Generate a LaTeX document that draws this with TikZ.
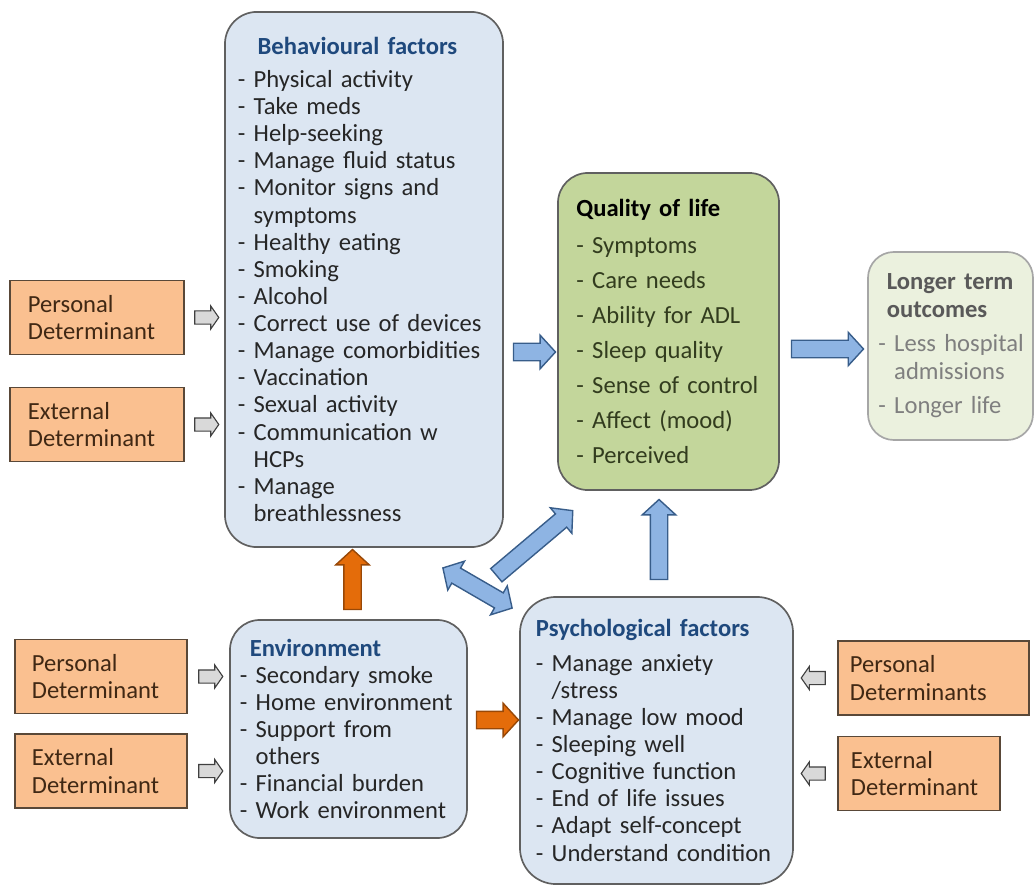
\documentclass[tikz,border=0pt]{standalone}
\usepackage{fontspec}
\setmainfont{Carlito}
\usetikzlibrary{positioning,shapes.arrows,calc}

\definecolor{boxfill}{RGB}{220,230,242}
\definecolor{boxline}{RGB}{96,96,96}
\definecolor{headblue}{RGB}{31,73,125}
\definecolor{itemtxt}{RGB}{38,38,38}
\definecolor{qolfill}{RGB}{195,214,155}
\definecolor{qoltxt}{RGB}{50,60,30}
\definecolor{ltofill}{RGB}{235,241,222}
\definecolor{ltoline}{RGB}{166,166,166}
\definecolor{ltohead}{RGB}{89,89,89}
\definecolor{ltotxt}{RGB}{127,127,127}
\definecolor{detfill}{RGB}{250,192,144}
\definecolor{detline}{RGB}{89,72,56}
\definecolor{dettxt}{RGB}{64,40,20}
\definecolor{garrfill}{RGB}{217,217,217}
\definecolor{garrline}{RGB}{64,64,64}
\definecolor{barrfill}{RGB}{142,180,227}
\definecolor{barrline}{RGB}{56,93,138}
\definecolor{oarrfill}{RGB}{228,108,10}
\definecolor{oarrline}{RGB}{152,72,7}

\newcommand{\facthead}[1]{\textbf{\color{headblue}#1}}
\newcommand{\contd}{\hphantom{-\ }}

\tikzset{
  factor/.style={draw=boxline, fill=boxfill, line width=1.2pt, rounded corners=0.8cm,
    align=left, inner sep=0, text=itemtxt},
  det/.style={draw=detline, fill=detfill, line width=1.2pt, align=left, inner sep=0,
    minimum height=1.85cm, text=dettxt},
  garrow/.style={single arrow, draw=garrline, fill=garrfill, line width=0.8pt, inner xsep=0,
    inner ysep=0.15cm, minimum height=0.6cm, minimum width=0.55cm, single arrow head extend=0.125cm,
    single arrow tip angle=110, sloped, allow upside down},
  barrow/.style={single arrow, draw=barrline, fill=barrfill, line width=1pt, inner xsep=0,
    inner ysep=0.2cm, minimum width=0.8cm, single arrow head extend=0.2cm, single arrow tip angle=95,
    sloped, allow upside down},
  oarrow/.style={barrow, draw=oarrline, fill=oarrfill},
  dbarrow/.style={double arrow, draw=barrline, fill=barrfill, line width=1pt, inner xsep=0,
    inner ysep=0.2cm, minimum width=0.8cm, double arrow head extend=0.2cm, double arrow tip angle=95,
    sloped, allow upside down}
}

\begin{document}
\begin{tikzpicture}[x=0.025cm, y=-0.025cm, every node/.style={font=\fontsize{17.5}{19.3}\selectfont}]

    \useasboundingbox (0,0) rectangle (1036,885);

    % factor boxes
    \node (beh) [factor, minimum width=6.95cm, minimum height=13.375cm, text width=6.3cm] at (364,279.5)
      {\hspace*{14pt}\facthead{Behavioural factors}\\[4pt]
       - Physical activity\\
       - Take meds\\
       - Help-seeking\\
       - Manage fluid status\\
       - Monitor signs and\\
       \contd symptoms\\
       - Healthy eating\\
       - Smoking\\
       - Alcohol\\
       - Correct use of devices\\
       - Manage comorbidities\\
       - Vaccination\\
       - Sexual activity\\
       - Communication w\\
       \contd HCPs\\
       - Manage\\
       \contd breathlessness};

    \node (qol) [factor, fill=qolfill, rounded corners=0.75cm, text=qoltxt, minimum width=5.525cm,
      minimum height=7.925cm, text width=4.6cm,
      font=\fontsize{17.5}{24.9}\selectfont] at (668.5,331.5)
      {\textbf{\color{black}Quality of life}\\[1.5pt]
       - Symptoms\\
       - Care needs\\
       - Ability for ADL\\
       - Sleep quality\\
       - Sense of control\\
       - Affect (mood)\\
       - Perceived};

    \node (lto) [factor, draw=ltoline, fill=ltofill, rounded corners=0.65cm, text=ltotxt,
      minimum width=4.125cm, minimum height=4.7cm, text width=3.6cm] at (950.5,346)
      {\hspace*{6pt}\textbf{\color{ltohead}Longer term}\\[0.5pt]
       \hspace*{6pt}\textbf{\color{ltohead}outcomes}\\[5pt]
       \mbox{- Less hospital}\\
       \contd admissions\\[5.5pt]
       - Longer life};

    \node (env) [factor, rounded corners=0.75cm, minimum width=5.925cm, minimum height=5.45cm,
      text width=5.425cm] at (348.5,729)
      {\hspace*{7pt}\facthead{Environment}\\
       - Secondary smoke\\
       - Home environment\\
       - Support from\\
       \contd others\\
       - Financial burden\\
       - Work environment};

    \node (psy) [factor, rounded corners=0.9cm, minimum width=6.825cm, minimum height=7.175cm,
      text width=6.025cm] at (656.5,740.5)
      {\facthead{Psychological factors}\\[5pt]
       - Manage anxiety\\
       \contd /stress\\
       - Manage low mood\\
       - Sleeping well\\
       - Cognitive function\\
       - End of life issues\\
       - Adapt self-concept\\
       - Understand condition};

    % determinants
    \node (pdA) [det, minimum width=4.35cm, text width=3.45cm] at (97,317.5) {Personal\\Determinant};
    \node (edA) [det, minimum width=4.35cm, text width=3.45cm] at (97,424.5) {External\\Determinant};
    \node (pdB) [det, minimum width=4.3cm, text width=3.45cm] at (101,676.5) {Personal\\Determinant};
    \node (edB) [det, minimum width=4.3cm, text width=3.45cm] at (101,771) {External\\Determinant};
    \node (pdC) [det, minimum width=4.775cm, text width=4.175cm] at (933.5,678) {Personal\\Determinants};
    \node (edC) [det, minimum width=4.05cm, text width=3.4cm] at (919,773.5) {External\\Determinant};

    % small grey arrows
    \path (pdA.east) -- (pdA.east -| beh.west) node[midway, garrow] (gA) {};
    \path (edA.east) -- (edA.east -| beh.west) node[midway, garrow] (gB) {};
    \path (pdB.east) -- (pdB.east -| env.west) node[midway, garrow] (gC) {};
    \path (edB.east) -- (edB.east -| env.west) node[midway, garrow] (gD) {};
    \path (pdC.west) -- (pdC.west -| psy.east) node[midway, garrow] (gE) {};
    \path (edC.west) -- (edC.west -| psy.east) node[midway, garrow] (gF) {};

    % block arrows
    \path (beh.east) ++(0,72.5) coordinate (bq) -- (bq -| qol.west)
      node[midway, barrow, minimum height=1.05cm] (bA) {};
    \path (qol.east) ++(0,17.5) coordinate (ql) -- (ql -| lto.west)
      node[midway, barrow, minimum height=1.8cm] (bB) {};
    \path (psy.north) ++(2.5,0) coordinate (pq) -- (pq |- qol.south)
      node[midway, barrow, minimum height=2cm] (bC) {};

    \coordinate (dA) at (493,578);
    \coordinate (dB) at (570,513);
    \path (dA) -- (dB) node[midway, barrow, minimum height=2.5cm] (bD) {};

    \coordinate (dC) at (443,568);
    \coordinate (dD) at (512,608);
    \path (dC) -- (dD) node[midway, dbarrow, minimum height=2cm] (bE) {};

    \path (env.north) ++(4,0) coordinate (eb) -- (eb |- beh.south)
      node[midway, oarrow, minimum height=1.5cm] (oA) {};
    \path (env.east) ++(0,-9) coordinate (ep) -- (ep -| psy.west)
      node[midway, oarrow, minimum height=1.05cm] (oB) {};

\end{tikzpicture}
\end{document}
